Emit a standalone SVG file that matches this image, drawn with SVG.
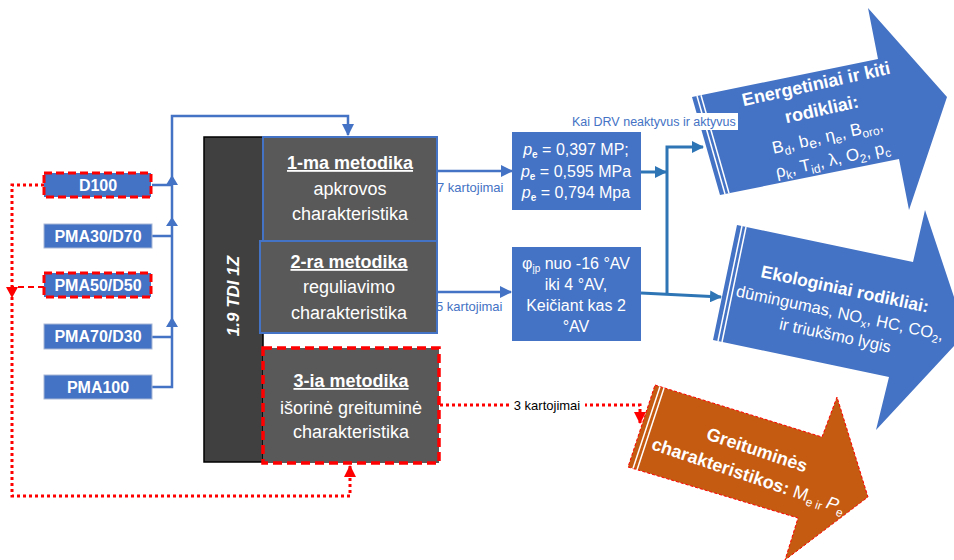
<svg xmlns="http://www.w3.org/2000/svg" width="954" height="560" viewBox="0 0 954 560">
<style>
.inbox{fill:#4472C4;stroke:#A9B8D6;stroke-width:1}
.inred{fill:#4472C4;stroke:#FF0000;stroke-width:3;stroke-dasharray:8 4}
.lt{font-family:"Liberation Sans",Arial,sans-serif;font-size:16px;font-weight:bold;fill:#FFFFFF;text-anchor:middle}
.mt{font-family:"Liberation Sans",Arial,sans-serif;font-size:18px;fill:#FFFFFF;text-anchor:middle}
.bt{font-family:"Liberation Sans",Arial,sans-serif;font-size:16px;fill:#FFFFFF;text-anchor:middle}
.lab{font-family:"Liberation Sans",Arial,sans-serif;font-size:13px;fill:#4472C4}
.bl{fill:none;stroke:#4472C4;stroke-width:2.5}
.bl2{fill:none;stroke:#2E75B6;stroke-width:3}
.rd{fill:none;stroke:#FF0000;stroke-width:3;stroke-dasharray:3 3}
.rd2{fill:none;stroke:#FF0000;stroke-width:2;stroke-dasharray:6 4}
.stripe{stroke:#FFFFFF;stroke-width:1.5;fill:none}
.at{font-family:"Liberation Sans",Arial,sans-serif;fill:#FFFFFF;text-anchor:middle}
</style>
<defs>
<marker id="ab" markerUnits="userSpaceOnUse" markerWidth="12" markerHeight="12" refX="11" refY="6" orient="auto"><path d="M0,0 L12,6 L0,12 z" fill="#4472C4"/></marker>
<marker id="ab2" markerUnits="userSpaceOnUse" markerWidth="12" markerHeight="12" refX="11" refY="6" orient="auto"><path d="M0,0 L12,6 L0,12 z" fill="#2E75B6"/></marker>
<marker id="ar" markerUnits="userSpaceOnUse" markerWidth="12" markerHeight="12" refX="11" refY="6" orient="auto"><path d="M0,0 L12,6 L0,12 z" fill="#FF0000"/></marker>
</defs>
<rect width="954" height="560" fill="#FFFFFF"/>

<g id="connectors">
<path class="bl" d="M152,387 H172 V116 H348 V135" marker-end="url(#ab)"/>
<path class="bl" d="M152,185 H172 M152,236 H172 M152,337 H172"/>
<polygon points="166,185 178,185 172,175" fill="#4472C4"/>
<polygon points="166,226 178,226 172,217" fill="#4472C4"/>
<polygon points="166,327 178,327 172,317" fill="#4472C4"/>
<path class="bl" d="M437,171 H512" marker-end="url(#ab)"/>
<path class="bl" d="M437,292 H511" marker-end="url(#ab)"/>
<path class="bl2" d="M641,172 H666" marker-end="url(#ab2)"/>
<path class="bl2" d="M667,293 V147 H703" marker-end="url(#ab2)"/>
<path class="bl2" d="M641,293 L721,297" marker-end="url(#ab2)"/>
<path class="rd" d="M44,185 H12 V496 H350 V466" marker-end="url(#ar)"/>
<path class="rd2" d="M44,287 H12"/>
<polygon points="6,287 18,287 12,298" fill="#FF0000"/>
<path class="rd" d="M440,405 H640 V423" marker-end="url(#ar)"/>
<text class="lab" x="437" y="192">7 kartojimai</text>
<text class="lab" x="436" y="311">5 kartojimai</text>
<rect x="509" y="397" width="76" height="16" fill="#FFFFFF"/>
<text x="547" y="410" font-family="Liberation Sans,Arial,sans-serif" font-size="13" fill="#000000" text-anchor="middle">3 kartojimai</text>
</g>

<g id="in-d100"><rect class="inred" x="44" y="173" width="107" height="24"/><text class="lt" x="98" y="190.5">D100</text></g>
<g id="in-pma30"><rect class="inbox" x="44" y="224" width="108" height="24"/><text class="lt" x="98" y="241.5">PMA30/D70</text></g>
<g id="in-pma50"><rect class="inred" x="44" y="273" width="107" height="24"/><text class="lt" x="98" y="290.5">PMA50/D50</text></g>
<g id="in-pma70"><rect class="inbox" x="44" y="324" width="108" height="25"/><text class="lt" x="98" y="342">PMA70/D30</text></g>
<g id="in-pma100"><rect class="inbox" x="44" y="375" width="108" height="24"/><text class="lt" x="98" y="392.5">PMA100</text></g>

<g id="engine">
<rect x="204" y="137" width="59" height="325" fill="#404040" stroke="#000000" stroke-width="1.5"/>
<text transform="translate(233,296) rotate(-90)" x="0" y="6" font-family="Liberation Sans,Arial,sans-serif" font-size="17" font-weight="bold" font-style="italic" fill="#FFFFFF" text-anchor="middle">1.9 TDI 1Z</text>
</g>

<g id="method1">
<rect x="263" y="137" width="174" height="104" fill="#595959" stroke="#4472C4" stroke-width="2"/>
<text class="mt" x="350" y="169" font-weight="bold" text-decoration="underline">1-ma metodika</text>
<text class="mt" x="350" y="195">apkrovos</text>
<text class="mt" x="350" y="220">charakteristika</text>
</g>
<g id="method2">
<rect x="260" y="241" width="177" height="92" fill="#595959" stroke="#4472C4" stroke-width="2"/>
<text class="mt" x="349" y="268" font-weight="bold" text-decoration="underline">2-ra metodika</text>
<text class="mt" x="349" y="293">reguliavimo</text>
<text class="mt" x="349" y="319">charakteristika</text>
</g>
<g id="method3">
<rect x="263" y="348" width="176" height="115" fill="#595959" stroke="#FF0000" stroke-width="3.5" stroke-dasharray="9 5"/>
<text class="mt" x="351" y="387" font-weight="bold" text-decoration="underline">3-ia metodika</text>
<text class="mt" x="351" y="414">išorinė greituminė</text>
<text class="mt" x="351" y="438">charakteristika</text>
</g>

<g id="pe-box">
<rect x="512" y="132" width="129" height="78" fill="#4472C4"/>
<text class="bt" x="576" y="155"><tspan font-style="italic">p</tspan><tspan dy="3" font-size="10" font-weight="bold">e</tspan><tspan dy="-3"> = 0,397 MP;</tspan></text>
<text class="bt" x="576" y="177"><tspan font-style="italic">p</tspan><tspan dy="3" font-size="10" font-weight="bold">e</tspan><tspan dy="-3"> = 0,595 MPa</tspan></text>
<text class="bt" x="576" y="198"><tspan font-style="italic">p</tspan><tspan dy="3" font-size="10" font-weight="bold">e</tspan><tspan dy="-3"> = 0,794 Mpa</tspan></text>
</g>
<g id="phi-box">
<rect x="512" y="247" width="129" height="94" fill="#4472C4"/>
<text class="bt" x="576" y="269">φ<tspan dy="3" font-size="10">įp</tspan><tspan dy="-3"> nuo -16 °AV</tspan></text>
<text class="bt" x="576" y="290">iki 4 °AV,</text>
<text class="bt" x="576" y="311">Keičiant kas 2</text>
<text class="bt" x="576" y="332">°AV</text>
</g>

<g id="out-energy">
<polygon points="692,97 878,59 868,8 947,97 909,210 899,159 720,195" fill="#4472C4"/>
<line class="stripe" x1="697" y1="96" x2="725" y2="194"/>
<line class="stripe" x1="701" y1="95.2" x2="729" y2="193.2"/>
<g transform="translate(816,84) rotate(-12.5)">
<text class="at" x="0" y="6" font-size="18" font-weight="bold">Energetiniai ir kiti</text>
<text class="at" x="0" y="32" font-size="18" font-weight="bold">rodikliai:</text>
<text class="at" x="0" y="59" font-size="17">B<tspan dy="4" font-size="12">d</tspan><tspan dy="-4">, b</tspan><tspan dy="3" font-size="14">e</tspan><tspan dy="-3">, η</tspan><tspan dy="4" font-size="12">e</tspan><tspan dy="-4">, B</tspan><tspan dy="4" font-size="12">oro</tspan><tspan dy="-4">,</tspan></text>
<text class="at" x="0" y="83" font-size="17">ρ<tspan dy="4" font-size="12">k</tspan><tspan dy="-4">, T</tspan><tspan dy="4" font-size="12">id</tspan><tspan dy="-4">, λ, O</tspan><tspan dy="4" font-size="12">2</tspan><tspan dy="-4">, p</tspan><tspan dy="4" font-size="12">c</tspan></text>
</g>
</g>
<rect x="570" y="113" width="168" height="17" fill="#FFFFFF"/>
<text x="572" y="126" font-family="Liberation Sans,Arial,sans-serif" font-size="12.5" fill="#4472C4">Kai DRV neaktyvus ir aktyvus</text>

<g id="out-eco">
<polygon points="737,225 913,262 925,210 966,333 876,430 889,377 713,340" fill="#4472C4"/>
<line class="stripe" x1="742" y1="226" x2="718" y2="341"/>
<line class="stripe" x1="746" y1="227" x2="722" y2="342"/>
<g transform="translate(845,289) rotate(12)">
<text class="at" x="0" y="6" font-size="17.5" font-weight="bold">Ekologiniai rodikliai:</text>
<text class="at" x="0" y="30" font-size="16.5">dūmingumas, NO<tspan dy="4" font-size="11">x</tspan><tspan dy="-4">, HC, CO</tspan><tspan dy="4" font-size="11">2</tspan><tspan dy="-4">,</tspan></text>
<text class="at" x="0" y="53" font-size="16.5">ir triukšmo lygis</text>
</g>
</g>

<g id="out-speed">
<polygon points="655,385 822,437 837,397 868,497 785,560 798,518 628,467" fill="#C55A11" stroke="#FF0000" stroke-width="1" stroke-dasharray="3 2"/>
<line class="stripe" x1="660" y1="386.5" x2="633" y2="468.5"/>
<line class="stripe" x1="664" y1="388" x2="637" y2="470"/>
<g transform="translate(757,450) rotate(18.5)">
<text class="at" x="0" y="6" font-size="18" font-weight="bold">Greituminės</text>
<text class="at" x="0" y="33" font-size="18"><tspan font-weight="bold">charakteristikos: </tspan>M<tspan dy="4" font-size="12">e ir </tspan><tspan dy="-4" font-style="italic">P</tspan><tspan dy="4" font-size="12">e</tspan></text>
</g>
</g>
</svg>
